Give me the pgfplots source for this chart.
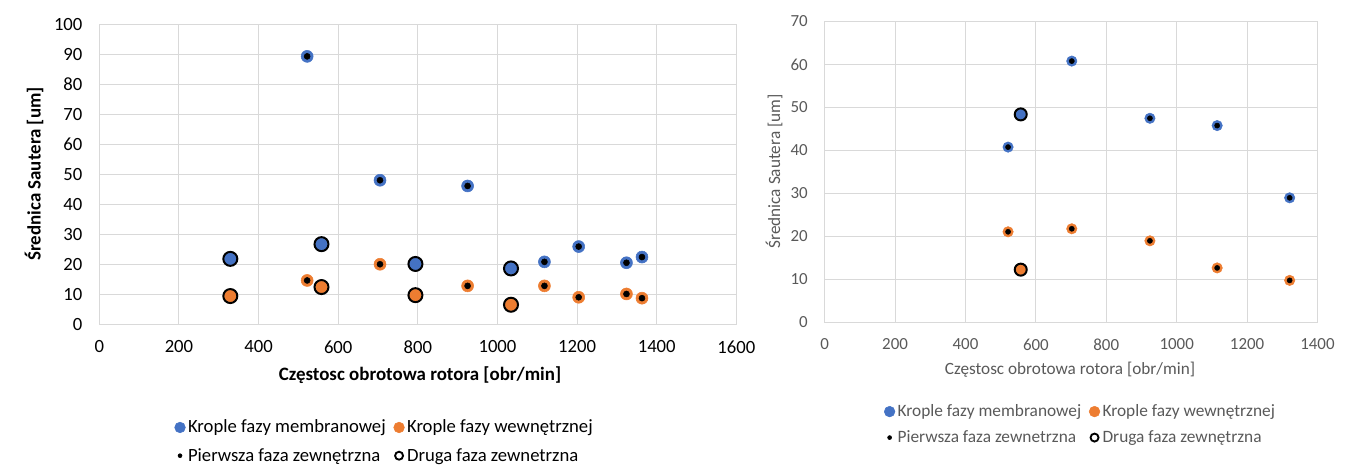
\documentclass[border=0pt]{standalone}
\usepackage{pgfplots}
\pgfplotsset{compat=1.18}
\usepackage{pgfplotstable}
\usepackage{fontspec}
\setmainfont{Carlito}
\definecolor{membr}{HTML}{4472C4}
\definecolor{wewn}{HTML}{ED7D31}
\definecolor{siatka}{HTML}{D9D9D9}
\definecolor{opis}{HTML}{595959}

% lewy wykres: pierwsza faza zewnetrzna (kropka) i druga (obwodka)
\pgfplotstableread{
x     memb  wewn
522   89.3  14.6
705   48.0  20.0
925   46.1  12.8
1118  20.8  12.8
1204  25.9   9.0
1324  20.5  10.1
1363  22.4   8.7
}\lewyPierwsza
\pgfplotstableread{
x     memb  wewn
329   21.8   9.4
558   26.7  12.4
794   20.1   9.7
1034  18.6   6.5
}\lewyDruga
% prawy wykres
\pgfplotstableread{
x     memb  wewn
521   40.8  21.1
702   60.8  21.8
924   47.5  19.0
1115  45.8  12.7
1321  29.0   9.8
}\prawyPierwsza
\pgfplotstableread{
x     memb  wewn
557   48.4  12.3
}\prawyDruga

\pgfplotsset{
  excel/.style={
    scale only axis,
    xmin=0, ymin=0,
    axis line style={siatka, line width=0.75pt},
    grid=major,
    grid style={siatka, line width=0.75pt},
    major tick length=0pt,
    /pgf/number format/assume math mode=true,
    /pgf/number format/1000 sep={},
    tick label style={inner sep=0pt},
    xticklabel style={anchor=north},
    yticklabel style={anchor=east},
    legend columns=2,
    legend cell align=left,
    legend style={draw=none, fill=none, inner sep=0pt,
      /tikz/every even column/.append style={column sep=4pt}},
  },
}

\begin{document}
\begin{tikzpicture}
\path[use as bounding box] (0,0) rectangle (1017pt,349.5pt);

% ---- lewy
\begin{axis}[excel,
  at={(74.5pt,106.3pt)}, anchor=south west,
  width=477.75pt, height=225pt,
  xmax=1600, ymax=100,
  xtick distance=200, ytick distance=10,
  tick label style={font=\fontsize{14}{16}\selectfont},
  xticklabel style={yshift=-12pt},
  yticklabel style={xshift=-12.5pt},
  legend style={at={(0.4485,-0.391)}, anchor=center,
    font=\fontsize{14}{16}\selectfont, row sep=6pt},
]
\addlegendimage{only marks, mark=*, mark size=4pt, color=membr}
\addlegendentry{Krople fazy membranowej}
\addlegendimage{only marks, mark=*, mark size=4pt, color=wewn}
\addlegendentry{Krople fazy wewnętrznej}
\addlegendimage{only marks, mark=*, mark size=1.5pt, color=black}
\addlegendentry{Pierwsza faza zewnętrzna}
\addlegendimage{only marks, mark=o, mark size=3pt, line width=1.4pt, color=black}
\addlegendentry{Druga faza zewnetrzna}

\addplot[forget plot, only marks, mark=*, mark size=4.5pt, color=membr] table[x=x, y=memb] {\lewyPierwsza};
\addplot[forget plot, only marks, mark=*, mark size=4.5pt, color=membr] table[x=x, y=memb] {\lewyDruga};
\addplot[forget plot, only marks, mark=*, mark size=4.5pt, color=wewn] table[x=x, y=wewn] {\lewyPierwsza};
\addplot[forget plot, only marks, mark=*, mark size=4.5pt, color=wewn] table[x=x, y=wewn] {\lewyDruga};
\addplot[forget plot, only marks, mark=*, mark size=2.25pt, color=black] table[x=x, y=memb] {\lewyPierwsza};
\addplot[forget plot, only marks, mark=*, mark size=2.25pt, color=black] table[x=x, y=wewn] {\lewyPierwsza};
\addplot[forget plot, only marks, mark=o, mark size=5.25pt, line width=1.5pt, color=black] table[x=x, y=memb] {\lewyDruga};
\addplot[forget plot, only marks, mark=o, mark size=5.25pt, line width=1.5pt, color=black] table[x=x, y=wewn] {\lewyDruga};
\end{axis}
\node[font=\fontsize{14.2}{16}\selectfont\bfseries] at (315pt,68.25pt) {Częstosc obrotowa rotora [obr/min]};
\node[font=\fontsize{14.2}{16}\selectfont\bfseries, rotate=90] at (25.5pt,219pt) {Średnica Sautera [um]};

% ---- prawy
\begin{axis}[excel,
  at={(618.5pt,107.6pt)}, anchor=south west,
  width=369.6pt, height=225.75pt,
  xmax=1400, ymax=70,
  xtick distance=200, ytick distance=10,
  tick label style={font=\fontsize{12.7}{15}\selectfont, text=opis},
  xticklabel style={yshift=-12pt},
  yticklabel style={xshift=-12.5pt},
  legend style={at={(0.520,-0.339)}, anchor=center, text=opis,
    font=\fontsize{13}{15}\selectfont, row sep=5pt},
]
\addlegendimage{only marks, mark=*, mark size=4pt, color=membr}
\addlegendentry{Krople fazy membranowej}
\addlegendimage{only marks, mark=*, mark size=4pt, color=wewn}
\addlegendentry{Krople fazy wewnętrznej}
\addlegendimage{only marks, mark=*, mark size=1.5pt, color=black}
\addlegendentry{Pierwsza faza zewnetrzna}
\addlegendimage{only marks, mark=o, mark size=3pt, line width=1.4pt, color=black}
\addlegendentry{Druga faza zewnętrzna}

\addplot[forget plot, only marks, mark=*, mark size=3.9pt, color=membr] table[x=x, y=memb] {\prawyPierwsza};
\addplot[forget plot, only marks, mark=*, mark size=3.9pt, color=membr] table[x=x, y=memb] {\prawyDruga};
\addplot[forget plot, only marks, mark=*, mark size=3.9pt, color=wewn] table[x=x, y=wewn] {\prawyPierwsza};
\addplot[forget plot, only marks, mark=*, mark size=3.9pt, color=wewn] table[x=x, y=wewn] {\prawyDruga};
\addplot[forget plot, only marks, mark=*, mark size=1.9pt, color=black] table[x=x, y=memb] {\prawyPierwsza};
\addplot[forget plot, only marks, mark=*, mark size=1.9pt, color=black] table[x=x, y=wewn] {\prawyPierwsza};
\addplot[forget plot, only marks, mark=o, mark size=4.5pt, line width=1.5pt, color=black] table[x=x, y=memb] {\prawyDruga};
\addplot[forget plot, only marks, mark=o, mark size=4.5pt, line width=1.5pt, color=black] table[x=x, y=wewn] {\prawyDruga};
\end{axis}
\node[font=\fontsize{12.9}{15}\selectfont, text=opis] at (802.5pt,72pt) {Częstosc obrotowa rotora [obr/min]};
\node[font=\fontsize{12.9}{15}\selectfont, text=opis, rotate=90] at (580.5pt,220.9pt) {Średnica Sautera [um]};
\end{tikzpicture}
\end{document}
